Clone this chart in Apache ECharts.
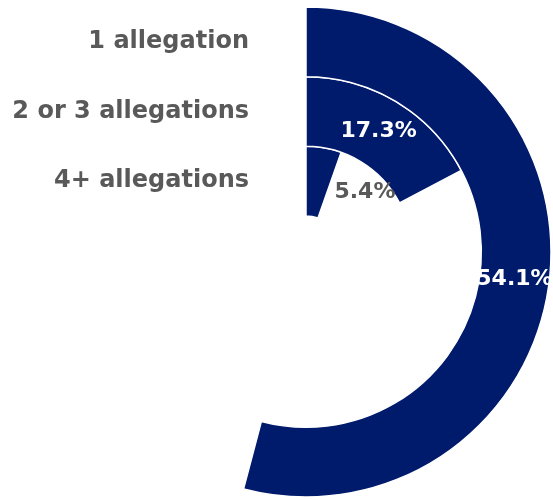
<!DOCTYPE html>
<html>
<head>
<meta charset="utf-8">
<script src="https://cdn.jsdelivr.net/npm/echarts@6/dist/echarts.min.js"></script>
<style>
  html, body { margin: 0; padding: 0; background: #fff; }
  #main { width: 553px; height: 500px; }
</style>
</head>
<body>
<div id="main"></div>
<script>
// inner ring first
let categories = ['4+ allegations', '2 or 3 allegations', '1 allegation']
let values = [5.4, 17.3, 54.1]

let navy = '#001A6C'
let grey = '#595959'
let font = 'DejaVu Sans'

let chart = echarts.init(document.getElementById('main'), null, { renderer: 'canvas' })

let sData = values.map(function (v, i) {
  let item = { value: v }
  if (i == 0) {
    // label doesn't fit in the small inner bar, sits outside in grey
    item.label = { color: grey, offset: [47, 10] }
  }
  return item
})

let option = {
  animation: false,
  polar: {
    center: [306, 252],
    radius: [36, 245]
  },
  angleAxis: {
    type: 'value',
    min: 0,
    max: 100,
    startAngle: 90,
    clockwise: true,
    show: false
  },
  radiusAxis: {
    type: 'category',
    data: categories,
    axisLine: { show: true, lineStyle: { color: '#d9d9d9', width: 1 } },
    axisTick: { show: false },
    splitLine: { show: false },
    axisLabel: {
      interval: 0,
      margin: 57,
      color: grey,
      fontFamily: font,
      fontWeight: 'bold',
      fontSize: 24
    }
  },
  series: [{
    type: 'bar',
    coordinateSystem: 'polar',
    data: sData,
    barWidth: '100%',
    barCategoryGap: 0,
    itemStyle: {
      color: navy,
      borderColor: '#fff',
      borderWidth: 1.5
    },
    label: {
      show: true,
      position: 'middle',
      rotate: 0,
      align: 'center',
      verticalAlign: 'middle',
      formatter: function (p) { return p.value.toFixed(1) + '%' },
      color: '#fff',
      fontFamily: font,
      fontWeight: 'bold',
      fontSize: 22
    }
  }]
}

chart.setOption(option)
</script>
</body>
</html>
